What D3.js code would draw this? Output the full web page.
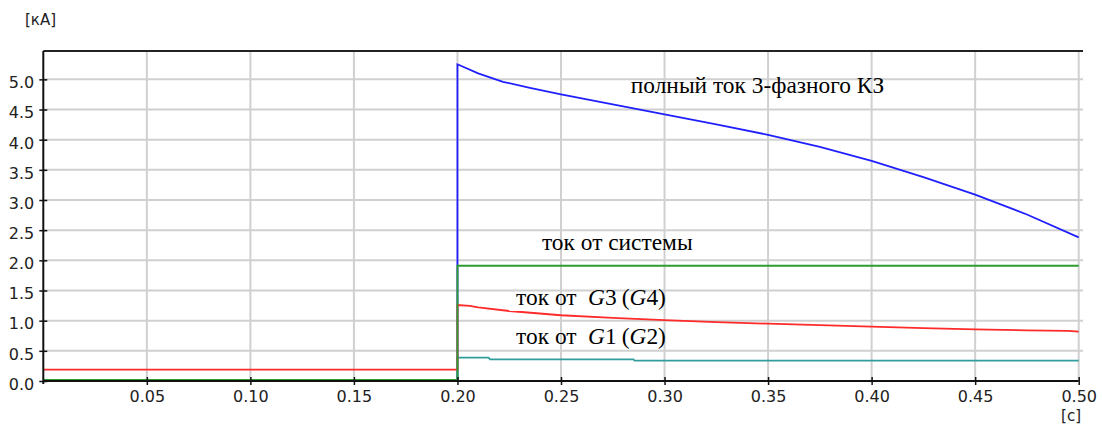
<!DOCTYPE html>
<html>
<head>
<meta charset="utf-8">
<script src="https://cdn.jsdelivr.net/npm/d3@7"></script>
<style>
  html, body { margin: 0; padding: 0; background: #fff; }
  svg { display: block; }
</style>
</head>
<body>
<svg id="chart" width="1102" height="427"></svg>
<script>
// ---- data (time in seconds, current in kA) ----
const xTicks = [0.05, 0.10, 0.15, 0.20, 0.25, 0.30, 0.35, 0.40, 0.45, 0.50];
const yTicks = [0.0, 0.5, 1.0, 1.5, 2.0, 2.5, 3.0, 3.5, 4.0, 4.5, 5.0];
const yUnit = "[кА]";
const xUnit = "[c]";

const totalT = [0, 0.2, 0.2, 0.21, 0.222, 0.235, 0.25, 0.275, 0.30, 0.325, 0.35, 0.375, 0.40, 0.425, 0.45, 0.475, 0.50];
const totalI = [0, 0, 5.25, 5.10, 4.96, 4.86, 4.75, 4.585, 4.42, 4.255, 4.08, 3.88, 3.65, 3.38, 3.09, 2.76, 2.38];

const sysT = [0, 0.2, 0.2, 0.50];
const sysI = [0.02, 0.02, 1.91, 1.91];

const g3T = [0, 0.2, 0.2, 0.206, 0.21, 0.225, 0.25, 0.275, 0.30, 0.325, 0.35, 0.375, 0.40, 0.425, 0.45, 0.475, 0.495, 0.50];
const g3I = [0.19, 0.19, 1.26, 1.245, 1.22, 1.16, 1.09, 1.045, 1.01, 0.975, 0.95, 0.925, 0.90, 0.875, 0.855, 0.84, 0.83, 0.82];

const g1T = [0, 0.2, 0.2, 0.215, 0.2157, 0.285, 0.2855, 0.50];
const g1I = [0, 0, 0.386, 0.386, 0.36, 0.36, 0.337, 0.337];

const labels = [
  { t: 0.2837, v: 4.77, text: "полный ток 3-фазного КЗ" },
  { t: 0.2408, v: 2.17, text: "ток от системы" },
  { t: 0.2283, v: 1.26, text: "ток от", g: ["3", "4"] },
  { t: 0.2283, v: 0.61, text: "ток от", g: ["1", "2"] }
];

// ---- layout ----
const svg = d3.select("#chart");
const pLeft = 43.3, pRight = 1078.7, pTop = 51, pBottom = 381, gridRight = 1083;

const x = d3.scaleLinear().domain([0, 0.5]).range([pLeft, pRight]);
const y = d3.scaleLinear().domain([0, 5.47]).range([pBottom, pTop]);

const tickFont = "'DejaVu Sans', Verdana, sans-serif";

// grid
const grid = svg.append("g");
grid.selectAll("line.v").data(xTicks).join("line").attr("class", "v")
  .attr("x1", d => x(d)).attr("x2", d => x(d))
  .attr("y1", pTop - 1).attr("y2", pBottom)
  .attr("stroke", "#d0d0d0").attr("stroke-width", 2);
grid.selectAll("line.h").data(yTicks.filter(d => d > 0)).join("line").attr("class", "h")
  .attr("x1", pLeft).attr("x2", gridRight)
  .attr("y1", d => y(d)).attr("y2", d => y(d))
  .attr("stroke", "#d0d0d0").attr("stroke-width", 2);

// top border
svg.append("line")
  .attr("x1", pLeft).attr("x2", gridRight).attr("y1", pTop).attr("y2", pTop)
  .attr("stroke", "#222").attr("stroke-width", 2);

// series
const line = d3.line().x(d => x(d[0])).y(d => y(d[1]));
const zip = (a, b) => a.map((t, i) => [t, b[i]]);
const series = [
  { t: totalT, v: totalI, color: "#2020ff" },
  { t: g1T, v: g1I, color: "#339c9c" },
  { t: g3T, v: g3I, color: "#ff2a2a" },
  { t: sysT, v: sysI, color: "#2f9c2f" }
];
svg.append("g").selectAll("path").data(series).join("path")
  .attr("d", s => line(zip(s.t, s.v)))
  .attr("fill", "none")
  .attr("stroke", s => s.color)
  .attr("stroke-width", 1.8);

// x axis
const xAxis = svg.append("g").attr("transform", `translate(0,${pBottom})`)
  .call(d3.axisBottom(x).tickValues(xTicks).tickFormat(d3.format(".2f")).tickSizeInner(4).tickSizeOuter(0));
xAxis.select(".domain").attr("stroke", "#111").attr("stroke-width", 2)
  .attr("d", `M${pLeft},0H${pRight}`);
xAxis.selectAll(".tick line").attr("y1", -4).attr("y2", 4).attr("stroke", "#111").attr("stroke-width", 1.5);
xAxis.selectAll(".tick text").attr("y", 21).attr("dy", 0)
  .style("font-family", tickFont).style("font-size", "16px").attr("fill", "#222");

// y axis
const yAxis = svg.append("g").attr("transform", `translate(${pLeft},0)`)
  .call(d3.axisLeft(y).tickValues(yTicks).tickFormat(d3.format(".1f")).tickSizeInner(4).tickSizeOuter(0));
yAxis.select(".domain").attr("stroke", "#111").attr("stroke-width", 2)
  .attr("d", `M0,${pTop}V${pBottom + 3}`);
yAxis.selectAll(".tick line").attr("x1", -4).attr("x2", 4).attr("stroke", "#111").attr("stroke-width", 1.5);
yAxis.selectAll(".tick text").attr("x", -9).attr("dy", "0.52em")
  .style("font-family", tickFont).style("font-size", "16px").attr("fill", "#222");

// units
svg.append("text").attr("x", 25).attr("y", 25).text(yUnit)
  .style("font-family", tickFont).style("font-size", "15px").attr("fill", "#222");
svg.append("text").attr("x", 1081).attr("y", 421).attr("text-anchor", "end").text(xUnit)
  .style("font-family", tickFont).style("font-size", "15px").attr("fill", "#222");

// annotations
const ann = svg.append("g").style("font-family", "'Liberation Serif', 'Times New Roman', serif")
  .style("font-size", "23.4px").attr("fill", "#000");
labels.forEach(l => {
  const x0 = x(l.t), y0 = y(l.v);
  ann.append("text").attr("x", x0).attr("y", y0).text(l.text);
  if (l.g) {
    const t = ann.append("text").attr("x", x0 + 72).attr("y", y0);
    t.append("tspan").text("G").style("font-style", "italic");
    t.append("tspan").text(l.g[0]);
    t.append("tspan").attr("dx", 5).text("(");
    t.append("tspan").text("G").style("font-style", "italic");
    t.append("tspan").text(l.g[1] + ")");
  }
});
</script>
</body>
</html>
